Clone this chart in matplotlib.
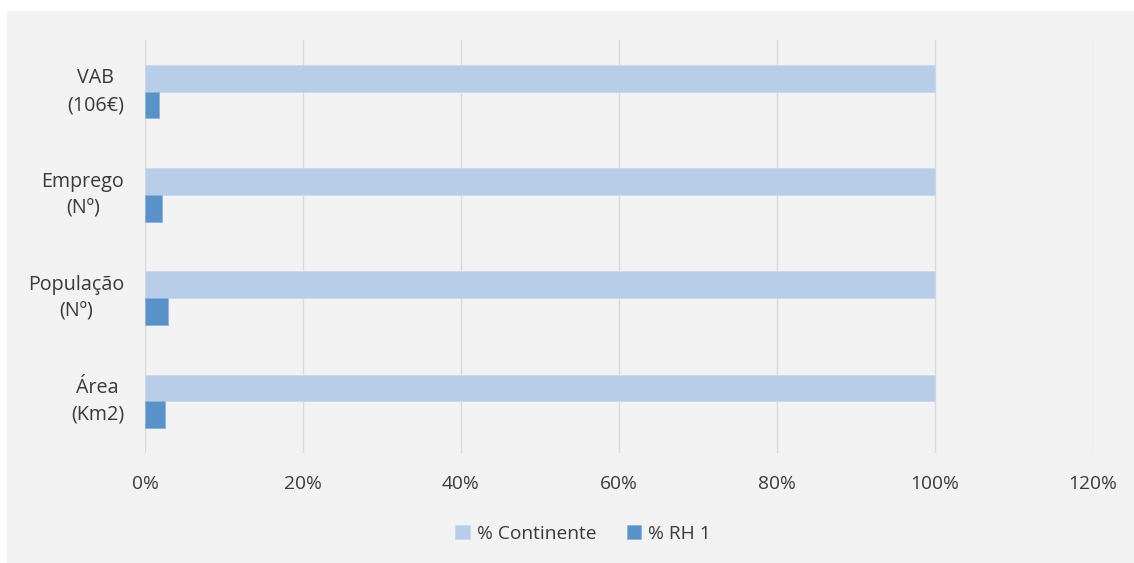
import matplotlib
matplotlib.use("Agg")
import matplotlib.pyplot as plt
from matplotlib.patches import Rectangle
from matplotlib.ticker import PercentFormatter, MultipleLocator
import numpy as np

categories = ["VAB\n(106€)", "Emprego\n(Nº)", "População\n(Nº)", "Área\n(Km2)"]
continente = [100, 100, 100, 100]
rh1 = [1.73, 2.19, 2.87, 2.53]
series_names = ["% Continente", "% RH 1"]

light = "#b8cde8"
dark = "#5892c9"
text_col = "#3a3a3a"
bg = "#f2f2f2"

plt.rcParams["font.family"] = ["Open Sans", "DejaVu Sans"]

W, H = 1134, 563
fig = plt.figure(figsize=(W / 100, H / 100), dpi=100)
fig.patch.set_facecolor("white")
fig.patches.append(Rectangle((7 / W, 0), 1 - 7 / W, 1 - 11 / H,
                             transform=fig.transFigure, facecolor=bg,
                             edgecolor="none", zorder=-10))

ax = fig.add_axes([145 / W, 1 - 453 / H, (1093 - 145) / W, (453 - 40) / H])
ax.set_facecolor(bg)

y = np.arange(len(categories))
h = 0.258
ax.barh(y - h / 2, continente, height=h, color=light, edgecolor="#c9d9ee",
        linewidth=0.6, label=series_names[0], zorder=3)
ax.barh(y + h / 2, rh1, height=h, color=dark, edgecolor="#8db3dc",
        linewidth=0.6, label=series_names[1], zorder=3)

ax.set_xlim(0, 120)
ax.set_ylim(len(categories) - 0.5, -0.5)
ax.xaxis.set_major_locator(MultipleLocator(20))
ax.xaxis.set_major_formatter(PercentFormatter(decimals=0))
ax.set_yticks(y)
ax.set_yticklabels(categories, multialignment="center", linespacing=1.45,
                   fontsize=14.2, va="center")
ax.grid(axis="x", color="#d9d9d9", linewidth=1, zorder=0)
ax.grid(axis="y", visible=False)
for s in ax.spines.values():
    s.set_visible(False)
ax.tick_params(axis="both", length=0, colors=text_col)
ax.tick_params(axis="x", pad=16, labelsize=13.8)
ax.tick_params(axis="y", pad=15)

fig.legend(loc="center", bbox_to_anchor=(583 / W, 1 - 534 / H), ncol=2,
           frameon=False, fontsize=13.8, handlelength=0.75, handleheight=0.75,
           handletextpad=0.35, columnspacing=1.6, labelcolor=text_col)

fig.savefig("out.png", dpi=100, facecolor=fig.get_facecolor())
